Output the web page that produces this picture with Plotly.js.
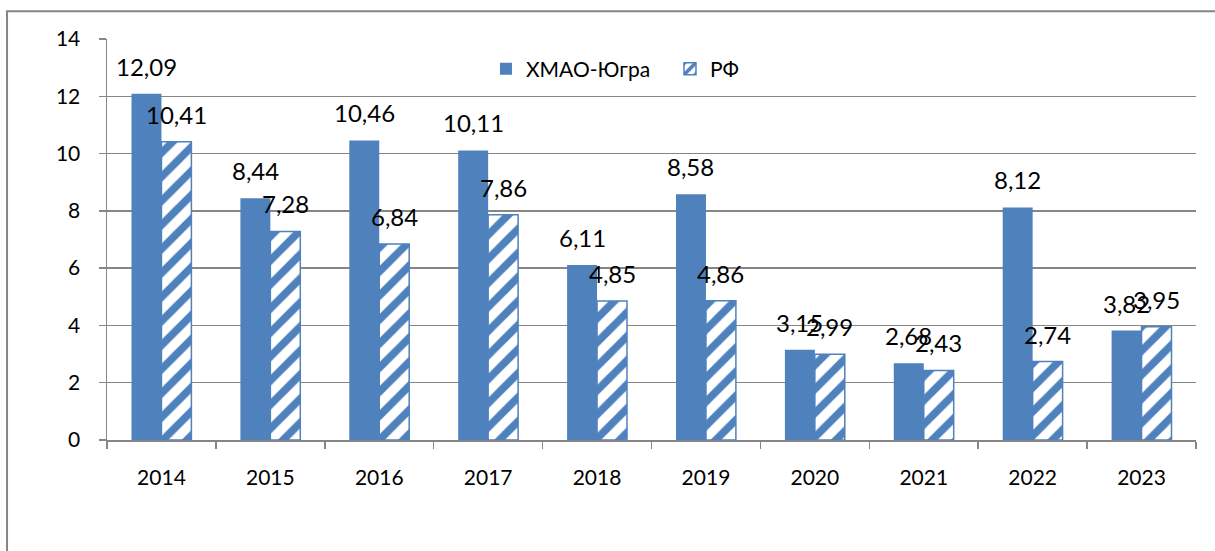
<!DOCTYPE html>
<html>
<head>
<meta charset="utf-8">
<script src="https://cdn.plot.ly/plotly-3.0.1.min.js"></script>
<style>html,body{margin:0;padding:0;background:#fff;}#chart{width:1215px;height:551px;}</style>
</head>
<body>
<div id="chart"></div>
<script>
const years = ['2014','2015','2016','2017','2018','2019','2020','2021','2022','2023'];
const hmaoName = 'ХМАО-Югра';
const rfName = 'РФ';
const hmaoValues = [12.09, 8.44, 10.46, 10.11, 6.11, 8.58, 3.15, 2.68, 8.12, 3.82];
const rfValues = [10.41, 7.28, 6.84, 7.86, 4.85, 4.86, 2.99, 2.43, 2.74, 3.95];
const yTicks = [0, 2, 4, 6, 8, 10, 12, 14];

const blue = '#4F81BD';
const grid = '#868686';
const fmt = v => v.toFixed(2).replace('.', ',');

const traces = [
  {type:'bar', name:hmaoName, x:years, y:hmaoValues,
   marker:{color:blue, line:{color:blue, width:0}}, hoverinfo:'skip'},
  {type:'bar', name:rfName, x:years, y:rfValues,
   marker:{color:'#ffffff', line:{color:blue, width:1.5},
     pattern:{shape:'/', fgcolor:blue, bgcolor:'#ffffff', size:17, solidity:0.45, fillmode:'replace'}},
   hoverinfo:'skip'}
];

const annotations = [];
years.forEach((yr, i) => {
  annotations.push({x:i, y:hmaoValues[i], xref:'x', yref:'y', text:fmt(hmaoValues[i]),
    showarrow:false, xanchor:'center', yanchor:'bottom', xshift:-15, yshift:11,
    font:{family:'Lato', size:24, color:'#000'}});
  annotations.push({x:i, y:rfValues[i], xref:'x', yref:'y', text:fmt(rfValues[i]),
    showarrow:false, xanchor:'center', yanchor:'bottom', xshift:15, yshift:11,
    font:{family:'Lato', size:24, color:'#000'}});
});

const layout = {
  width:1215, height:551,
  margin:{l:107, r:19, t:39, b:111, pad:0},
  paper_bgcolor:'#ffffff', plot_bgcolor:'#ffffff',
  font:{family:'Lato', color:'#000'},
  barmode:'group', bargap:0.45, bargroupgap:0,
  showlegend:true,
  legend:{orientation:'h', x:0.348, y:0.925, xanchor:'left', yanchor:'middle',
    entrywidth:139, entrywidthmode:'pixels',
    font:{family:'Lato', size:21, color:'#000'}, bgcolor:'rgba(0,0,0,0)', traceorder:'normal'},
  xaxis:{type:'category', range:[-0.5, years.length - 0.5], autorange:false, tickson:'boundaries', ticks:'outside', ticklen:7, tickwidth:1.5, tickcolor:grid,
    showline:true, linecolor:grid, linewidth:1.5, showgrid:false, tickangle:0,
    tickfont:{family:'Lato', size:21, color:'#000'}, ticklabelstandoff:18, fixedrange:true},
  yaxis:{range:[0,14], autorange:false, tickvals:yTicks, ticktext:yTicks.map(String), ticks:'outside', ticklen:7, tickwidth:1.5, tickcolor:grid,
    showline:true, linecolor:grid, linewidth:1.5, showgrid:true, gridcolor:grid, gridwidth:1.5, zeroline:false,
    tickfont:{family:'Lato', size:21, color:'#000'}, ticklabelstandoff:14, fixedrange:true},
  annotations:annotations,
  shapes:[{type:'rect', xref:'paper', yref:'paper', x0:-0.0918, x1:1.2, y0:-0.5, y1:1.069,
    line:{color:grid, width:2}, fillcolor:'rgba(0,0,0,0)', layer:'below'}]
};

Plotly.newPlot('chart', traces, layout, {displayModeBar:false, staticPlot:true});
</script>
</body>
</html>
